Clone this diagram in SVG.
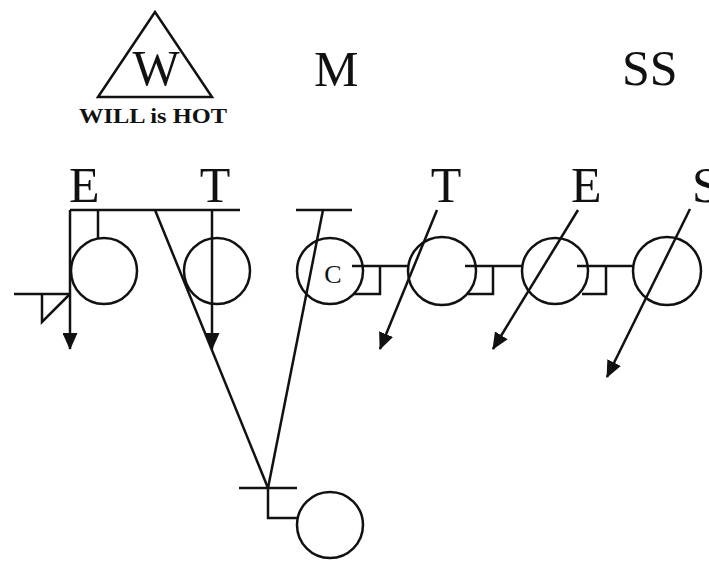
<svg xmlns="http://www.w3.org/2000/svg" width="709" height="563" viewBox="0 0 709 563">
<style>
.ln{fill:none;stroke:#111;stroke-width:2.5}
.pl{fill:none;stroke:#111;stroke-width:2.5}
.big{font-family:"Liberation Serif",serif;font-size:50px;fill:#111}
.c{font-family:"Liberation Serif",serif;font-size:26px;fill:#111}
.cap{font-family:"Liberation Serif",serif;font-size:22px;font-weight:bold;fill:#111}
</style>
<defs>
<marker id="ah" viewBox="0 0 17 15" refX="16" refY="7.5" markerWidth="17" markerHeight="15" orient="auto" markerUnits="userSpaceOnUse">
<path d="M0,0 L17,7.5 L0,15 Z" fill="#111"/>
</marker>
</defs>
<rect width="709" height="563" fill="#fff"/>
<g id="will">
<polygon class="ln" points="155,12 98,97 212,97"/>
<text class="big" x="156" y="85" text-anchor="middle">W</text>
<text class="cap" x="153" y="123" text-anchor="middle" textLength="148" lengthAdjust="spacingAndGlyphs">WILL is HOT</text>
</g>
<g id="m"><text class="big" x="314" y="86">M</text></g>
<g id="ss"><text class="big" x="622" y="85">SS</text></g>
<g id="labels">
<text class="big" x="69" y="202">E</text>
<text class="big" x="215" y="202" text-anchor="middle">T</text>
<text class="big" x="446" y="202" text-anchor="middle">T</text>
<text class="big" x="571" y="202">E</text>
<text class="big" x="692" y="202">S</text>
</g>
<g id="end-left"><circle class="ln" cx="104" cy="271" r="33"/></g>
<g id="tackle-left"><circle class="ln" cx="217" cy="271" r="33"/></g>
<g id="center"><circle class="ln" cx="330" cy="271" r="33"/><text class="c" x="333" y="283" text-anchor="middle">C</text></g>
<g id="tackle-right"><circle class="ln" cx="442" cy="271" r="34"/></g>
<g id="end-right"><circle class="ln" cx="555" cy="271" r="33"/></g>
<g id="s-right"><circle class="ln" cx="667" cy="271" r="34"/></g>
<g id="back"><circle class="ln" cx="330" cy="525" r="33"/></g>
<g id="connectors">
<path class="pl" d="M70,210 H240"/>
<path class="pl" d="M98,210 V238"/>
<path class="pl" d="M70,210 V349" marker-end="url(#ah)"/>
<path class="pl" d="M212,210 V349" marker-end="url(#ah)"/>
<path class="pl" d="M14,294 H70"/>
<path class="pl" d="M42,294 V322 L69,295"/>
<path class="pl" d="M155,210 L268,488"/>
<path class="pl" d="M296,210 H352"/>
<path class="pl" d="M323,210 L268,488"/>
<path class="pl" d="M239,488 H297"/>
<path class="pl" d="M268,488 V518 H297"/>
<path class="pl" d="M352,266 H409"/>
<path class="pl" d="M354,294 H380 V266"/>
<path class="pl" d="M465,266 H522"/>
<path class="pl" d="M468,294 H493 V266"/>
<path class="pl" d="M577,266 H634"/>
<path class="pl" d="M582,294 H606 V266"/>
<path class="pl" d="M437,210 L380,349" marker-end="url(#ah)"/>
<path class="pl" d="M578,210 L493,349" marker-end="url(#ah)"/>
<path class="pl" d="M690,209 L607,377" marker-end="url(#ah)"/>
</g>
</svg>
